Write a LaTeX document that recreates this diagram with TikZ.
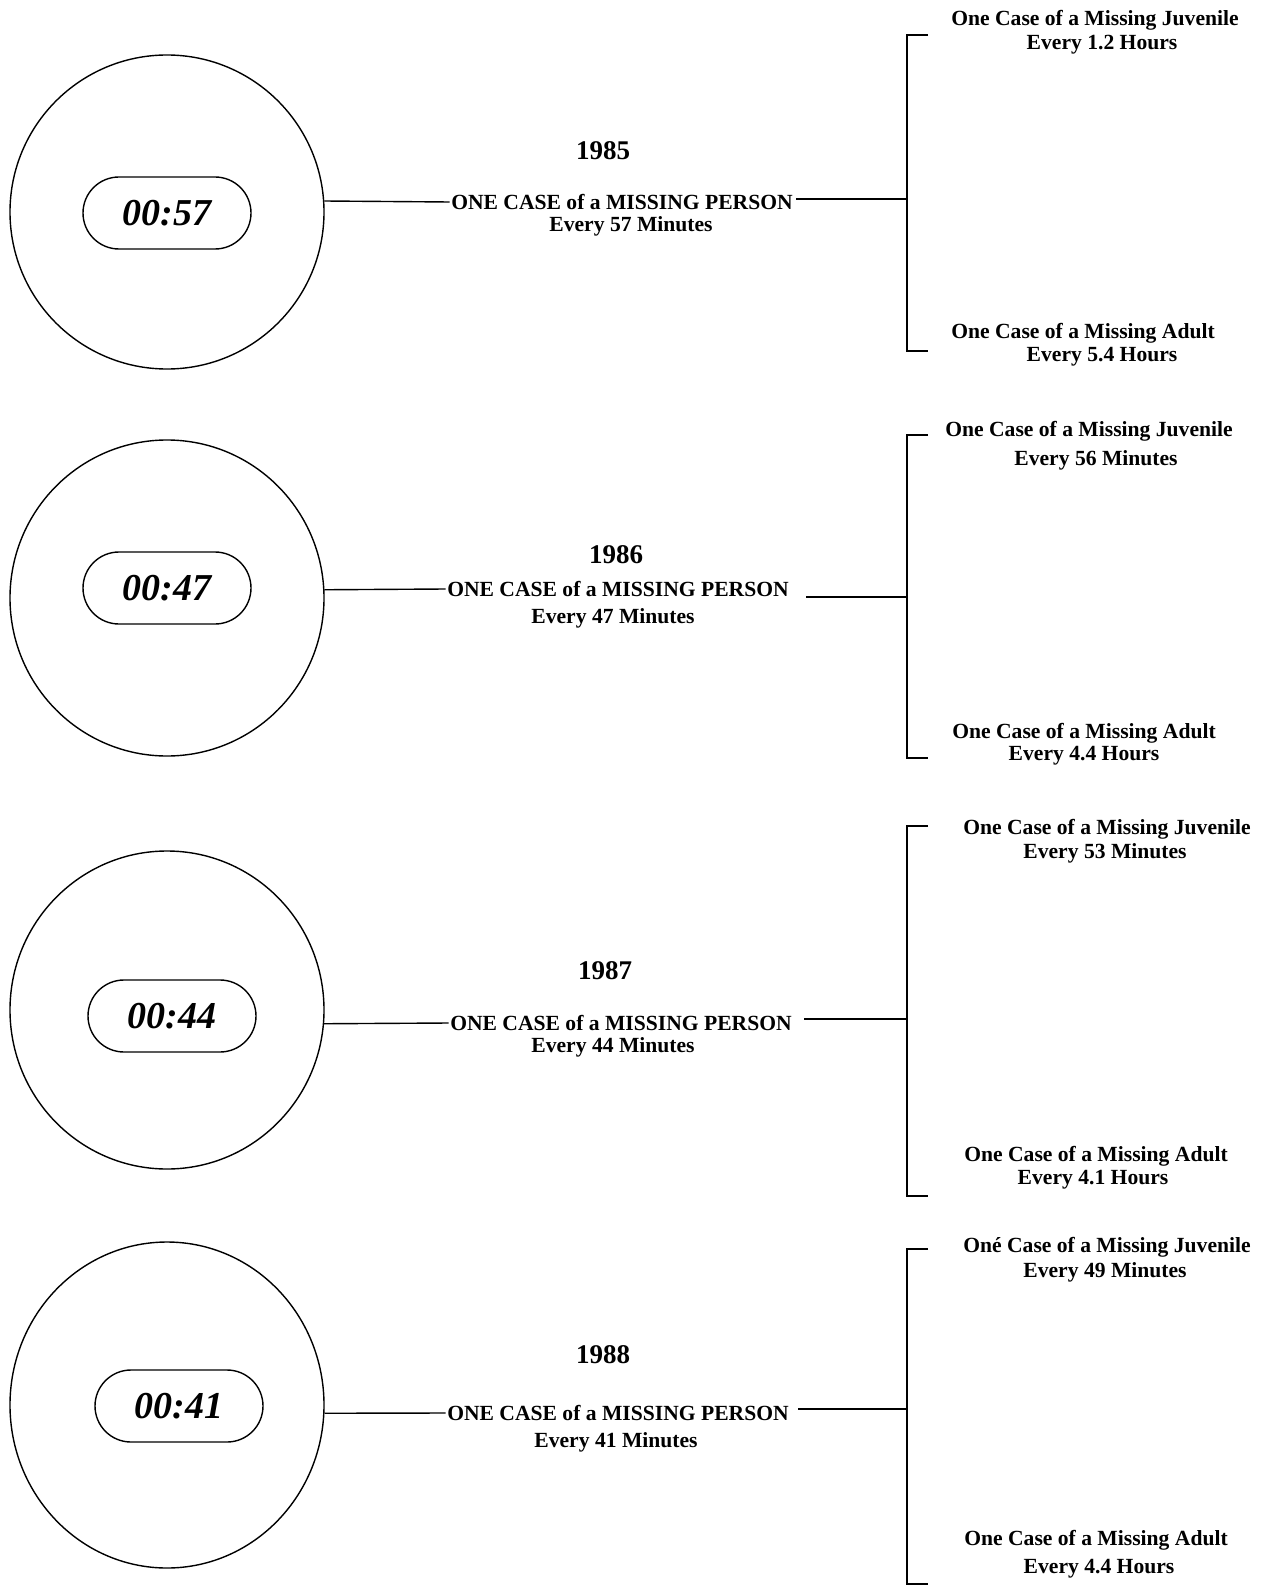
\documentclass[tikz,border=0pt]{standalone}
\usepackage{fontspec}
\setmainfont{Liberation Serif}
\usetikzlibrary{shapes.geometric}

\begin{document}
\begin{tikzpicture}[x=1pt, y=-1pt, line width=1.4pt,
    txt/.style={font=\fontsize{21.6}{26}\selectfont\bfseries, inner sep=1pt},
    year/.style={font=\fontsize{27}{30}\selectfont\bfseries},
    clock/.style={draw, rounded corners=36pt, minimum width=168pt,
      minimum height=72pt, font=\fontsize{38}{40}\selectfont\bfseries\itshape},
    dial/.style={draw, ellipse, minimum width=314pt, minimum height=314pt}]

    \useasboundingbox (0,0) rectangle (1260,1586);

    % 1985
    \node [dial] (D1) at (167,212) {};
    \node [clock] (K1) at (167,213) {00:57};
    \node [year] (Y1) at (603,151) {1985};
    \node [txt] (P1) at (622,202) {ONE CASE of a MISSING PERSON};
    \node [txt] (E1) at (631,226) {Every 57 Minutes};
    \draw (D1.4) -- (P1.west);
    \coordinate (T1) at (907,35);
    \coordinate (U1) at (907,351);
    \coordinate (R1) at (796,199);
    \draw (R1) -- (R1 -| T1);
    \draw ([xshift=21pt]T1) -- (T1) -- (U1) -- ([xshift=21pt]U1);
    \node [txt] (J1) at (1095,20) {One Case of a Missing Juvenile};
    \node [txt] (JE1) at (1102,45) {Every 1.2 Hours};
    \node [txt] (A1) at (1083,333) {One Case of a Missing Adult};
    \node [txt] (AE1) at (1102,357) {Every 5.4 Hours};

    % 1986
    \node [dial, minimum height=316pt] (D2) at (167,598) {};
    \node [clock] (K2) at (167,588) {00:47};
    \node [year] (Y2) at (616,555) {1986};
    \node [txt] (P2) at (618,589) {ONE CASE of a MISSING PERSON};
    \node [txt] (E2) at (613,618) {Every 47 Minutes};
    \draw (D2.3) -- (P2.west);
    \coordinate (T2) at (907,435);
    \coordinate (U2) at (907,758);
    \coordinate (R2) at (806,597);
    \draw (R2) -- (R2 -| T2);
    \draw ([xshift=21pt]T2) -- (T2) -- (U2) -- ([xshift=21pt]U2);
    \node [txt] (J2) at (1089,431) {One Case of a Missing Juvenile};
    \node [txt] (JE2) at (1096,460) {Every 56 Minutes};
    \node [txt] (A2) at (1084,733) {One Case of a Missing Adult};
    \node [txt] (AE2) at (1084,756) {Every 4.4 Hours};

    % 1987
    \node [dial, minimum height=318pt] (D3) at (167,1010) {};
    \node [clock] (K3) at (172,1016) {00:44};
    \node [year] (Y3) at (605,971) {1987};
    \node [txt] (P3) at (621,1023) {ONE CASE of a MISSING PERSON};
    \node [txt] (E3) at (613,1047) {Every 44 Minutes};
    \draw (D3.-5) -- (P3.west);
    \coordinate (T3) at (907,826);
    \coordinate (U3) at (907,1196);
    \coordinate (R3) at (804,1019);
    \draw (R3) -- (R3 -| T3);
    \draw ([xshift=21pt]T3) -- (T3) -- (U3) -- ([xshift=21pt]U3);
    \node [txt] (J3) at (1107,829) {One Case of a Missing Juvenile};
    \node [txt] (JE3) at (1105,853) {Every 53 Minutes};
    \node [txt] (A3) at (1096,1156) {One Case of a Missing Adult};
    \node [txt] (AE3) at (1093,1180) {Every 4.1 Hours};

    % 1988
    \node [dial, minimum height=326pt] (D4) at (167,1405) {};
    \node [clock] (K4) at (179,1406) {00:41};
    \node [year] (Y4) at (603,1355) {1988};
    \node [txt] (P4) at (618,1413) {ONE CASE of a MISSING PERSON};
    \node [txt] (E4) at (616,1442) {Every 41 Minutes};
    \draw (D4.-3) -- (P4.west);
    \coordinate (T4) at (907,1249);
    \coordinate (U4) at (907,1584);
    \coordinate (R4) at (798,1409);
    \draw (R4) -- (R4 -| T4);
    \draw ([xshift=21pt]T4) -- (T4) -- (U4) -- ([xshift=21pt]U4);
    \node [txt] (J4) at (1107,1247) {Oné Case of a Missing Juvenile};
    \node [txt] (JE4) at (1105,1272) {Every 49 Minutes};
    \node [txt] (A4) at (1096,1540) {One Case of a Missing Adult};
    \node [txt] (AE4) at (1099,1569) {Every 4.4 Hours};
\end{tikzpicture}
\end{document}
